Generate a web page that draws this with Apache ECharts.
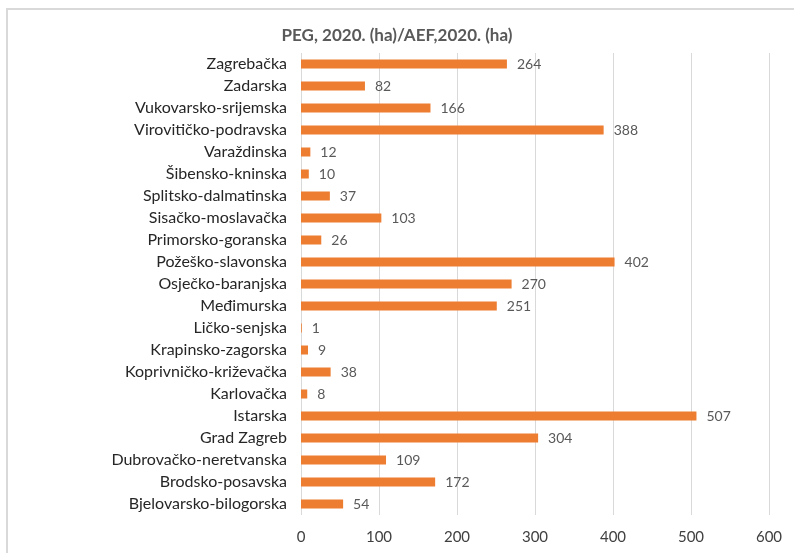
<!DOCTYPE html>
<html>
<head>
<meta charset="utf-8">
<script src="https://cdn.jsdelivr.net/npm/echarts@6/dist/echarts.min.js"></script>
<style>
  html, body { margin: 0; padding: 0; background: #fff; }
  #chart { width: 794px; height: 553px; }
</style>
</head>
<body>
<div id="chart"></div>
<script>
// županije, odozdo prema gore (kao na Excel grafu)
var counties = [
  'Bjelovarsko-bilogorska', 'Brodsko-posavska', 'Dubrovačko-neretvanska', 'Grad Zagreb',
  'Istarska', 'Karlovačka', 'Koprivničko-križevačka', 'Krapinsko-zagorska',
  'Ličko-senjska', 'Međimurska', 'Osječko-baranjska', 'Požeško-slavonska',
  'Primorsko-goranska', 'Sisačko-moslavačka', 'Splitsko-dalmatinska', 'Šibensko-kninska',
  'Varaždinska', 'Virovitičko-podravska', 'Vukovarsko-srijemska', 'Zadarska', 'Zagrebačka'
];
var ratio = [54, 172, 109, 304, 507, 8, 38, 9, 1, 251, 270, 402, 26, 103, 37, 10, 12, 388, 166, 82, 264];
var xTicks = [0, 100, 200, 300, 400, 500, 600];

var chart = echarts.init(document.getElementById('chart'));
var font = 'Lato, "Open Sans", sans-serif';

var option = {
  animation: false,
  title: {
    text: 'PEG, 2020. (ha)/AEF,2020. (ha)',
    left: 'center',
    top: 22,
    textStyle: { fontFamily: font, fontSize: 17, fontWeight: 'bold', color: '#595959' }
  },
  graphic: [{
    type: 'rect',
    shape: { x: 7, y: 9, width: 820, height: 600 },
    style: { fill: 'none', stroke: '#d9d9d9', lineWidth: 2 },
    silent: true
  }],
  grid: { left: 301, right: 25, top: 53, bottom: 38 },
  xAxis: {
    type: 'value',
    min: xTicks[0],
    max: xTicks[xTicks.length - 1],
    interval: 100,
    axisLine: { show: false },
    axisTick: { show: false },
    splitLine: { lineStyle: { color: '#d9d9d9', width: 1 } },
    axisLabel: { fontFamily: font, fontSize: 15, color: '#404040', margin: 15 }
  },
  yAxis: {
    type: 'category',
    data: counties,
    axisLine: { show: false },
    axisTick: { show: false },
    axisLabel: { fontFamily: font, fontSize: 16, color: '#262626', margin: 14 }
  },
  series: [{
    name: 'PEG/AEF',
    type: 'bar',
    data: ratio,
    barWidth: 9,
    itemStyle: { color: '#ED7D31' },
    label: {
      show: true,
      position: 'right',
      distance: 10,
      fontFamily: font,
      fontSize: 14,
      color: '#595959'
    }
  }]
};
chart.setOption(option);
</script>
</body>
</html>
